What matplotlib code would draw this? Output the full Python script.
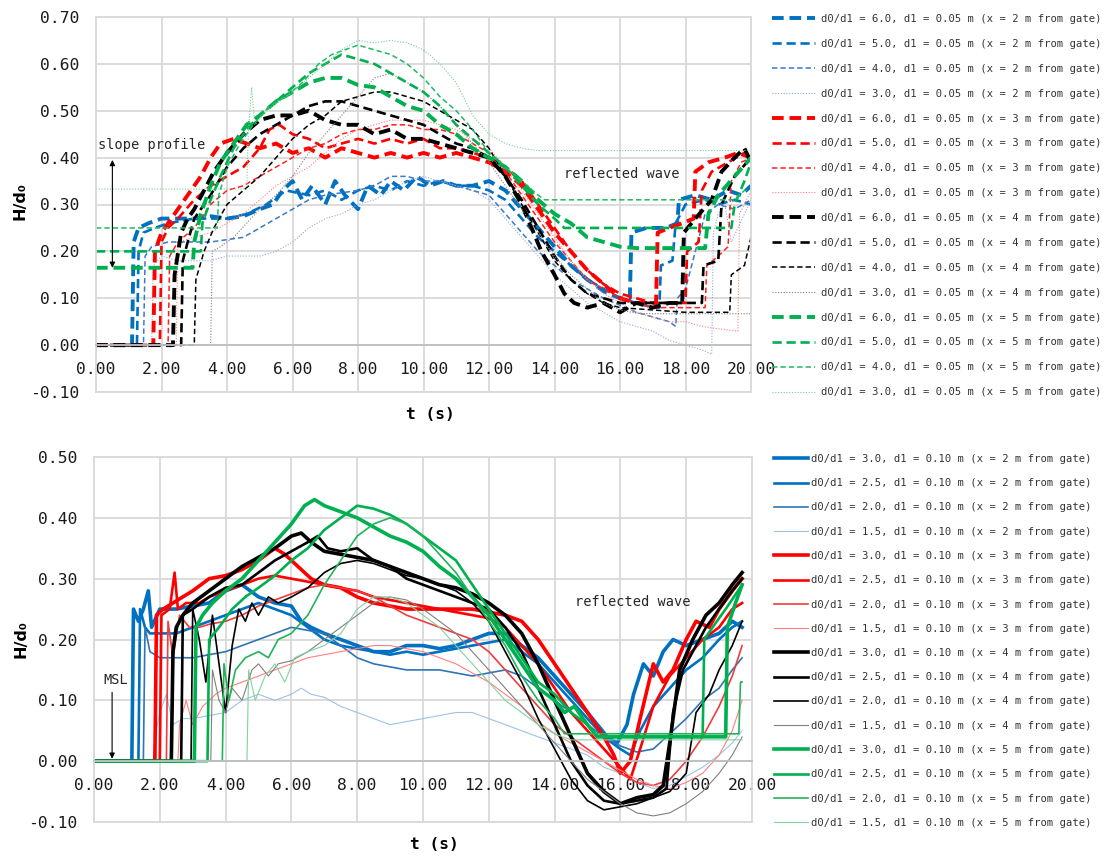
import matplotlib
matplotlib.use("Agg")
import matplotlib.pyplot as plt
from matplotlib.ticker import MultipleLocator, FormatStrFormatter

# ---------------- data: top chart (d1 = 0.05 m) ----------------
top_ratios = ["6.0", "5.0", "4.0", "3.0"]
bot_ratios = ["3.0", "2.5", "2.0", "1.5"]
gauges = ["2", "3", "4", "5"]

top_b60 = [(0,0),(1.1,0),(1.15,0.22),(1.3,0.25),(1.6,0.26),(2.0,0.27),(2.5,0.27),(3.0,0.27),(3.5,0.275),(4.0,0.27),(4.5,0.275),(5.0,0.29),(5.4,0.30),(5.7,0.33),(6.0,0.35),(6.3,0.31),(6.6,0.34),(7.0,0.30),(7.3,0.35),(7.6,0.32),(8.0,0.29),(8.3,0.34),(8.7,0.32),(9.0,0.35),(9.4,0.33),(9.8,0.36),(10.2,0.34),(10.6,0.35),(11.0,0.34),(11.5,0.34),(12.0,0.35),(12.5,0.33),(13.0,0.29),(13.5,0.25),(14.0,0.21),(14.5,0.17),(15.0,0.14),(15.5,0.115),(16.0,0.10),(16.3,0.10),(16.35,0.24),(16.8,0.25),(17.4,0.25),(17.75,0.26),(17.8,0.31),(18.3,0.32),(18.8,0.31),(19.3,0.33),(19.7,0.32),(20,0.34)]
top_b50 = [(0,0),(1.25,0),(1.3,0.20),(1.45,0.24),(1.8,0.25),(2.2,0.26),(3.0,0.27),(4.0,0.27),(4.6,0.28),(5.2,0.30),(5.8,0.33),(6.5,0.32),(7.0,0.33),(7.5,0.31),(8.0,0.33),(8.5,0.34),(9.0,0.33),(9.5,0.35),(10.0,0.34),(10.5,0.35),(11.0,0.34),(11.5,0.34),(12.0,0.33),(12.5,0.31),(13.0,0.27),(13.5,0.23),(14.0,0.20),(14.5,0.17),(15.0,0.14),(15.5,0.12),(16.0,0.10),(16.5,0.09),(17.0,0.08),(17.2,0.08),(17.25,0.17),(17.6,0.18),(17.7,0.26),(18.0,0.30),(18.6,0.31),(19.0,0.30),(19.5,0.31),(20,0.30)]
top_b40 = [(0,0),(1.45,0),(1.5,0.19),(1.7,0.21),(2.2,0.22),(3.0,0.22),(3.5,0.22),(4.0,0.225),(4.5,0.23),(5.0,0.25),(5.5,0.27),(6.0,0.29),(6.5,0.31),(7.0,0.32),(8.0,0.33),(8.5,0.34),(9.0,0.36),(9.5,0.36),(10.0,0.35),(10.5,0.35),(11.0,0.34),(11.5,0.33),(12.0,0.32),(12.5,0.28),(13.0,0.24),(13.5,0.20),(14.0,0.17),(14.5,0.14),(15.0,0.12),(15.5,0.10),(16.0,0.085),(16.5,0.07),(17.0,0.06),(17.5,0.05),(17.7,0.04),(17.75,0.10),(18.0,0.12),(18.3,0.20),(18.6,0.28),(19.0,0.30),(19.5,0.29),(20,0.31)]
top_b30 = [(0,0),(1.7,0),(1.75,0.17),(2.0,0.19),(2.5,0.18),(3.0,0.18),(3.5,0.18),(4.0,0.19),(4.5,0.19),(5.0,0.19),(5.5,0.20),(6.0,0.22),(6.5,0.25),(7.0,0.27),(7.5,0.28),(8.0,0.30),(8.5,0.31),(9.0,0.33),(9.5,0.35),(10.0,0.36),(10.5,0.35),(11.0,0.34),(11.5,0.33),(12.0,0.31),(12.5,0.27),(13.0,0.23),(13.5,0.19),(14.0,0.15),(14.5,0.12),(15.0,0.09),(15.5,0.07),(16.0,0.05),(16.5,0.04),(17.0,0.03),(17.5,0.01),(18.0,0.0),(18.5,-0.01),(18.8,-0.02),(18.85,0.24),(19.0,0.28),(19.2,0.30),(19.4,0.22),(19.6,0.25),(19.8,0.28),(20,0.31)]

top_r60 = [(0,0),(1.75,0),(1.8,0.20),(2.0,0.24),(2.3,0.27),(2.6,0.30),(2.9,0.33),(3.2,0.36),(3.5,0.40),(3.8,0.43),(4.2,0.44),(4.6,0.43),(5.0,0.42),(5.5,0.43),(6.0,0.41),(6.5,0.42),(7.0,0.40),(7.5,0.42),(8.0,0.41),(8.5,0.40),(9.0,0.41),(9.5,0.40),(10.0,0.41),(10.5,0.40),(11.0,0.41),(11.5,0.40),(12.0,0.39),(12.5,0.37),(13.0,0.34),(13.5,0.29),(14.0,0.24),(14.5,0.20),(15.0,0.16),(15.5,0.13),(16.0,0.10),(16.5,0.09),(17.1,0.09),(17.15,0.24),(17.5,0.25),(17.9,0.26),(18.25,0.27),(18.3,0.37),(18.7,0.39),(19.2,0.40),(19.6,0.41),(20,0.40)]
top_r50 = [(0,0),(1.95,0),(2.0,0.22),(2.2,0.25),(2.5,0.27),(3.0,0.31),(3.5,0.34),(4.0,0.36),(4.5,0.38),(5.0,0.42),(5.3,0.46),(5.6,0.47),(6.0,0.45),(6.5,0.44),(7.0,0.42),(7.5,0.43),(8.0,0.44),(8.5,0.43),(9.0,0.44),(9.5,0.43),(10.0,0.44),(10.5,0.42),(11.0,0.42),(11.5,0.41),(12.0,0.40),(12.5,0.38),(13.0,0.35),(13.5,0.30),(14.0,0.25),(14.5,0.20),(15.0,0.16),(15.5,0.13),(16.0,0.11),(16.5,0.10),(17.0,0.09),(18.0,0.09),(18.05,0.20),(18.4,0.22),(18.5,0.33),(18.8,0.37),(19.3,0.39),(19.8,0.41),(20,0.39)]
top_r40 = [(0,0),(2.2,0),(2.25,0.19),(2.5,0.22),(3.0,0.25),(3.5,0.30),(4.0,0.33),(4.5,0.34),(5.0,0.36),(5.5,0.38),(6.0,0.40),(6.5,0.42),(7.0,0.43),(7.5,0.45),(8.0,0.46),(8.5,0.46),(9.0,0.47),(9.5,0.47),(10.0,0.46),(10.5,0.46),(11.0,0.45),(11.5,0.43),(12.0,0.41),(12.5,0.37),(13.0,0.32),(13.5,0.27),(14.0,0.22),(14.5,0.18),(15.0,0.14),(15.5,0.12),(16.0,0.10),(16.5,0.09),(17.0,0.08),(18.6,0.08),(18.65,0.17),(19.0,0.19),(19.3,0.21),(19.4,0.35),(19.7,0.39),(20,0.40)]
top_r30 = [(0,0),(2.45,0),(2.5,0.22),(3.0,0.23),(3.5,0.24),(4.0,0.26),(4.5,0.28),(5.0,0.31),(5.5,0.34),(6.0,0.36),(6.5,0.38),(7.0,0.41),(7.5,0.44),(8.0,0.46),(8.5,0.47),(9.0,0.48),(9.5,0.48),(10.0,0.48),(10.5,0.47),(11.0,0.46),(11.5,0.44),(12.0,0.42),(12.5,0.38),(13.0,0.33),(13.5,0.28),(14.0,0.23),(14.5,0.18),(15.0,0.14),(15.5,0.11),(16.0,0.09),(16.5,0.07),(17.0,0.06),(17.5,0.05),(18.0,0.05),(18.5,0.04),(19.0,0.035),(19.6,0.03),(19.65,0.28),(20,0.33)]

top_k60 = [(0,0),(2.35,0),(2.4,0.15),(2.6,0.24),(2.8,0.27),(3.0,0.29),(3.3,0.33),(3.6,0.37),(4.0,0.41),(4.5,0.45),(5.0,0.48),(5.5,0.49),(6.0,0.49),(6.5,0.50),(7.0,0.48),(7.5,0.47),(8.0,0.47),(8.5,0.45),(9.0,0.46),(9.5,0.44),(10.0,0.44),(10.5,0.43),(11.0,0.42),(11.5,0.41),(12.0,0.40),(12.5,0.36),(13.0,0.30),(13.3,0.25),(13.6,0.20),(14.0,0.15),(14.3,0.11),(14.6,0.09),(15.0,0.08),(15.5,0.09),(16.0,0.07),(16.5,0.09),(17.0,0.08),(17.5,0.09),(17.9,0.09),(17.95,0.24),(18.3,0.27),(18.8,0.31),(19.1,0.37),(19.5,0.40),(19.8,0.42),(20,0.39)]
top_k50 = [(0,0),(2.6,0),(2.65,0.18),(2.8,0.22),(3.0,0.27),(3.5,0.32),(4.0,0.38),(4.5,0.42),(5.0,0.45),(5.5,0.47),(6.0,0.49),(6.5,0.51),(7.0,0.52),(7.5,0.52),(8.0,0.51),(8.5,0.50),(9.0,0.49),(9.5,0.48),(10.0,0.47),(10.5,0.45),(11.0,0.43),(11.5,0.42),(12.0,0.40),(12.5,0.36),(13.0,0.31),(13.5,0.25),(14.0,0.19),(14.5,0.14),(15.0,0.11),(15.5,0.10),(16.0,0.09),(18.5,0.09),(18.55,0.17),(19.0,0.18),(19.1,0.30),(19.5,0.36),(20,0.40)]
top_k40 = [(0,0),(3.0,0),(3.05,0.14),(3.3,0.20),(3.6,0.25),(4.0,0.30),(4.5,0.33),(5.0,0.36),(5.5,0.40),(6.0,0.44),(6.5,0.47),(7.0,0.49),(7.5,0.52),(8.0,0.53),(8.5,0.54),(9.0,0.54),(9.5,0.53),(10.0,0.52),(10.5,0.50),(11.0,0.48),(11.5,0.46),(12.0,0.42),(12.5,0.36),(13.0,0.30),(13.5,0.24),(14.0,0.18),(14.5,0.14),(15.0,0.11),(15.5,0.09),(16.0,0.08),(17.0,0.075),(18.0,0.07),(19.35,0.07),(19.4,0.15),(19.8,0.17),(20,0.23)]
top_k30 = [(0,0),(3.5,0),(3.55,0.20),(3.8,0.21),(4.2,0.23),(4.6,0.26),(5.0,0.29),(5.5,0.32),(6.0,0.36),(6.5,0.41),(7.0,0.45),(7.5,0.49),(8.0,0.53),(8.5,0.57),(9.0,0.58),(9.5,0.56),(10.0,0.54),(10.5,0.51),(11.0,0.47),(11.5,0.43),(12.0,0.39),(12.5,0.34),(13.0,0.29),(13.5,0.24),(14.0,0.19),(14.5,0.15),(15.0,0.12),(15.5,0.09),(16.0,0.075),(16.5,0.068),(17.0,0.067),(20,0.067)]

top_g60 = [(0,0.165),(2.95,0.165),(3.0,0.22),(3.2,0.28),(3.5,0.34),(3.8,0.39),(4.2,0.43),(4.6,0.47),(5.0,0.49),(5.5,0.52),(6.0,0.54),(6.5,0.56),(7.0,0.57),(7.5,0.57),(8.0,0.555),(8.5,0.55),(9.0,0.53),(9.5,0.51),(10.0,0.50),(10.5,0.47),(11.0,0.45),(11.5,0.42),(12.0,0.40),(12.5,0.38),(13.0,0.35),(13.5,0.31),(14.0,0.28),(14.5,0.26),(15.0,0.23),(15.5,0.22),(16.0,0.21),(16.5,0.207),(18.6,0.207),(18.7,0.28),(19.0,0.32),(19.5,0.36),(20,0.40)]
top_g50 = [(0,0.20),(3.2,0.20),(3.25,0.26),(3.5,0.31),(3.8,0.36),(4.2,0.42),(4.6,0.46),(5.0,0.49),(5.5,0.52),(6.0,0.55),(6.5,0.58),(7.0,0.60),(7.5,0.62),(8.0,0.61),(8.5,0.60),(9.0,0.58),(9.5,0.56),(10.0,0.54),(10.5,0.51),(11.0,0.47),(11.5,0.44),(12.0,0.41),(12.5,0.38),(13.0,0.34),(13.5,0.30),(14.0,0.27),(14.3,0.25),(19.4,0.25),(19.5,0.30),(19.8,0.35),(20,0.39)]
top_g40 = [(0,0.25),(3.7,0.25),(3.75,0.32),(4.0,0.38),(4.4,0.43),(4.8,0.47),(5.3,0.51),(5.8,0.53),(6.3,0.56),(6.8,0.60),(7.2,0.62),(7.6,0.63),(8.0,0.64),(8.5,0.63),(9.0,0.62),(9.5,0.60),(10.0,0.57),(10.5,0.53),(11.0,0.50),(11.5,0.46),(12.0,0.41),(12.5,0.38),(13.0,0.35),(13.5,0.32),(13.7,0.31),(19.5,0.31),(19.8,0.33),(20,0.33)]
top_g30 = [(0,0.333),(4.6,0.333),(4.65,0.45),(4.75,0.55),(4.85,0.47),(5.2,0.50),(5.6,0.52),(6.0,0.54),(6.5,0.57),(7.0,0.60),(7.5,0.63),(8.0,0.65),(8.5,0.645),(9.0,0.65),(9.5,0.645),(10.0,0.63),(10.5,0.60),(11.0,0.56),(11.5,0.49),(12.0,0.45),(12.5,0.43),(13.0,0.42),(13.5,0.415),(20,0.415)]

# ---------------- data: bottom chart (d1 = 0.10 m) ----------------
bot_b30 = [(0,0),(1.15,0),(1.2,0.25),(1.35,0.23),(1.5,0.25),(1.65,0.28),(1.75,0.22),(2.0,0.25),(2.5,0.25),(3.0,0.255),(3.5,0.26),(4.0,0.28),(4.5,0.29),(5.0,0.27),(5.5,0.26),(6.0,0.255),(6.3,0.23),(6.6,0.22),(7.0,0.21),(7.5,0.20),(8.0,0.19),(8.5,0.18),(9.0,0.18),(9.5,0.19),(10.0,0.19),(10.5,0.185),(11.0,0.19),(11.5,0.20),(12.0,0.21),(12.5,0.21),(13.0,0.19),(13.5,0.17),(14.0,0.14),(14.5,0.11),(15.0,0.08),(15.3,0.06),(15.6,0.04),(15.9,0.03),(16.2,0.06),(16.4,0.11),(16.7,0.16),(17.0,0.14),(17.3,0.18),(17.6,0.20),(18.0,0.19),(18.5,0.20),(19.0,0.21),(19.4,0.23),(19.7,0.22)]
bot_b25 = [(0,0),(1.35,0),(1.4,0.25),(1.55,0.22),(1.7,0.21),(2.0,0.21),(2.5,0.21),(3.0,0.22),(3.5,0.23),(4.0,0.24),(4.5,0.25),(5.0,0.26),(5.5,0.25),(6.0,0.24),(6.5,0.22),(7.0,0.20),(7.5,0.19),(8.0,0.185),(8.5,0.18),(9.0,0.175),(9.5,0.18),(10.0,0.175),(10.5,0.18),(11.0,0.185),(11.5,0.19),(12.0,0.195),(12.5,0.20),(13.0,0.18),(13.5,0.16),(14.0,0.13),(14.5,0.10),(15.0,0.07),(15.5,0.04),(16.0,0.02),(16.3,0.01),(16.6,0.05),(17.0,0.09),(17.5,0.12),(18.0,0.15),(18.5,0.17),(19.0,0.20),(19.4,0.22),(19.7,0.23)]
bot_b20 = [(0,0),(1.5,0),(1.55,0.22),(1.7,0.18),(2.0,0.17),(2.5,0.17),(3.0,0.17),(3.5,0.175),(4.0,0.18),(4.5,0.19),(5.0,0.20),(5.5,0.21),(6.0,0.22),(6.5,0.215),(7.0,0.21),(7.5,0.19),(8.0,0.17),(8.5,0.16),(9.0,0.155),(9.5,0.15),(10.0,0.15),(10.5,0.15),(11.0,0.145),(11.5,0.14),(12.0,0.145),(12.5,0.15),(13.0,0.14),(13.5,0.12),(14.0,0.10),(14.5,0.08),(15.0,0.06),(15.5,0.04),(16.0,0.025),(16.5,0.015),(17.0,0.02),(17.5,0.045),(18.0,0.07),(18.5,0.10),(19.0,0.12),(19.4,0.15),(19.7,0.17)]
bot_b15 = [(0,0),(1.8,0),(1.85,0.04),(2.0,0.08),(2.2,0.11),(2.4,0.06),(2.7,0.07),(3.0,0.07),(3.5,0.075),(4.0,0.08),(4.5,0.10),(5.0,0.11),(5.5,0.10),(6.0,0.11),(6.3,0.12),(6.6,0.11),(7.0,0.105),(7.5,0.09),(8.0,0.08),(8.5,0.07),(9.0,0.06),(9.5,0.065),(10.0,0.07),(10.5,0.075),(11.0,0.08),(11.5,0.08),(12.0,0.07),(12.5,0.06),(13.0,0.05),(13.5,0.04),(14.0,0.03),(14.5,0.02),(15.0,0.01),(15.5,-0.01),(16.0,-0.02),(16.5,-0.035),(17.0,-0.045),(17.5,-0.04),(18.0,-0.025),(18.5,-0.01),(19.0,0.01),(19.4,0.03),(19.7,0.05)]

bot_r30 = [(0,0),(1.85,0),(1.9,0.24),(2.1,0.25),(2.4,0.26),(2.7,0.27),(3.0,0.28),(3.5,0.30),(4.0,0.305),(4.5,0.315),(5.0,0.33),(5.5,0.35),(5.8,0.34),(6.2,0.32),(6.6,0.30),(7.0,0.29),(7.5,0.285),(8.0,0.27),(8.5,0.26),(9.0,0.255),(9.5,0.25),(10.0,0.25),(11.0,0.25),(11.5,0.25),(12.0,0.245),(12.5,0.24),(13.0,0.23),(13.5,0.20),(14.0,0.16),(14.5,0.12),(15.0,0.08),(15.5,0.04),(15.8,0.01),(16.0,-0.02),(16.3,0.0),(16.6,0.07),(17.0,0.16),(17.3,0.13),(17.6,0.15),(18.0,0.20),(18.3,0.23),(18.7,0.22),(19.0,0.25),(19.4,0.28),(19.7,0.30)]
bot_r25 = [(0,0),(2.0,0),(2.05,0.24),(2.3,0.25),(2.45,0.31),(2.55,0.25),(2.8,0.26),(3.2,0.26),(3.5,0.27),(4.0,0.28),(4.5,0.29),(5.0,0.30),(5.5,0.305),(6.0,0.30),(6.5,0.295),(7.0,0.29),(7.5,0.285),(8.0,0.28),(8.5,0.27),(9.0,0.265),(9.5,0.26),(10.0,0.255),(10.5,0.25),(11.0,0.245),(11.5,0.24),(12.0,0.235),(12.5,0.22),(13.0,0.19),(13.5,0.16),(14.0,0.12),(14.5,0.08),(15.0,0.05),(15.5,0.02),(16.0,-0.01),(16.3,-0.03),(16.6,0.02),(17.0,0.09),(17.5,0.14),(18.0,0.17),(18.5,0.20),(19.0,0.22),(19.4,0.25),(19.7,0.26)]
bot_r20 = [(0,0),(2.2,0),(2.25,0.23),(2.4,0.17),(2.6,0.24),(2.9,0.22),(3.2,0.22),(3.5,0.225),(4.0,0.23),(4.5,0.24),(5.0,0.255),(5.5,0.265),(6.0,0.275),(6.5,0.285),(7.0,0.29),(7.5,0.285),(8.0,0.28),(8.5,0.27),(9.0,0.255),(9.5,0.24),(10.0,0.23),(10.5,0.22),(11.0,0.21),(11.5,0.20),(12.0,0.18),(12.5,0.15),(13.0,0.12),(13.5,0.09),(14.0,0.06),(14.5,0.04),(15.0,0.02),(15.5,0.0),(16.0,-0.02),(16.5,-0.035),(17.0,-0.04),(17.5,-0.03),(18.0,0.0),(18.5,0.04),(19.0,0.09),(19.4,0.14),(19.7,0.19)]
bot_r15 = [(0,0),(2.55,0),(2.6,0.06),(2.8,0.10),(3.0,0.06),(3.3,0.09),(3.7,0.11),(4.0,0.12),(4.5,0.13),(5.0,0.14),(5.5,0.15),(6.0,0.16),(6.5,0.17),(7.0,0.175),(7.5,0.18),(8.0,0.185),(8.5,0.19),(9.0,0.19),(9.5,0.185),(10.0,0.18),(10.5,0.17),(11.0,0.16),(11.5,0.145),(12.0,0.13),(12.5,0.11),(13.0,0.09),(13.5,0.065),(14.0,0.045),(14.5,0.03),(15.0,0.015),(15.5,0.0),(16.0,-0.015),(16.5,-0.03),(17.0,-0.04),(17.5,-0.045),(18.0,-0.035),(18.5,-0.02),(19.0,0.01),(19.4,0.05),(19.7,0.10)]

bot_k30 = [(0,0),(2.35,0),(2.4,0.18),(2.5,0.22),(2.7,0.24),(3.0,0.26),(3.5,0.28),(4.0,0.30),(4.5,0.32),(5.0,0.335),(5.5,0.35),(6.0,0.37),(6.3,0.375),(6.6,0.36),(7.0,0.345),(7.5,0.34),(8.0,0.335),(8.5,0.33),(9.0,0.32),(9.5,0.31),(10.0,0.30),(10.5,0.29),(11.0,0.285),(11.5,0.275),(12.0,0.26),(12.5,0.24),(13.0,0.21),(13.5,0.16),(14.0,0.10),(14.5,0.04),(15.0,-0.02),(15.5,-0.05),(16.0,-0.07),(16.5,-0.06),(17.0,-0.055),(17.3,-0.04),(17.5,0.03),(17.8,0.15),(18.2,0.20),(18.6,0.24),(19.0,0.26),(19.4,0.29),(19.7,0.31)]
bot_k25 = [(0,0),(2.65,0),(2.7,0.24),(3.0,0.25),(3.5,0.27),(4.0,0.285),(4.5,0.29),(5.0,0.31),(5.5,0.33),(6.0,0.345),(6.5,0.36),(6.8,0.37),(7.1,0.35),(7.5,0.345),(8.0,0.35),(8.5,0.33),(9.0,0.32),(9.5,0.30),(10.0,0.29),(10.5,0.28),(11.0,0.27),(11.5,0.26),(12.0,0.25),(12.5,0.22),(13.0,0.18),(13.5,0.12),(14.0,0.06),(14.5,0.0),(15.0,-0.04),(15.5,-0.065),(16.0,-0.07),(16.5,-0.065),(17.0,-0.06),(17.4,-0.045),(17.6,0.08),(17.9,0.15),(18.2,0.18),(18.6,0.22),(19.0,0.25),(19.4,0.28),(19.7,0.30)]
bot_k20 = [(0,0),(2.95,0),(3.0,0.25),(3.2,0.20),(3.4,0.13),(3.6,0.24),(3.8,0.16),(4.0,0.08),(4.2,0.19),(4.4,0.25),(4.6,0.23),(4.8,0.26),(5.0,0.24),(5.3,0.27),(5.6,0.26),(6.0,0.27),(6.5,0.285),(7.0,0.31),(7.5,0.325),(8.0,0.33),(8.5,0.325),(9.0,0.315),(9.5,0.305),(10.0,0.30),(10.5,0.29),(11.0,0.28),(11.5,0.26),(12.0,0.23),(12.5,0.18),(13.0,0.13),(13.5,0.07),(14.0,0.02),(14.5,-0.03),(15.0,-0.065),(15.5,-0.08),(16.0,-0.075),(16.5,-0.07),(17.0,-0.06),(17.5,-0.05),(18.0,-0.02),(18.3,0.08),(18.7,0.11),(19.0,0.15),(19.4,0.19),(19.7,0.23)]
bot_k15 = [(0,0),(3.55,0),(3.6,0.15),(3.8,0.10),(4.0,0.08),(4.2,0.12),(4.5,0.10),(4.8,0.15),(5.0,0.16),(5.3,0.14),(5.6,0.16),(6.0,0.165),(6.5,0.18),(7.0,0.20),(7.5,0.22),(8.0,0.24),(8.5,0.26),(9.0,0.27),(9.5,0.265),(10.0,0.25),(10.5,0.23),(11.0,0.21),(11.5,0.18),(12.0,0.15),(12.5,0.12),(13.0,0.09),(13.5,0.06),(14.0,0.03),(14.5,0.0),(15.0,-0.03),(15.5,-0.05),(16.0,-0.07),(16.5,-0.085),(17.0,-0.09),(17.5,-0.085),(18.0,-0.07),(18.5,-0.05),(19.0,-0.02),(19.4,0.01),(19.7,0.04)]

bot_g30 = [(0,0),(3.05,0),(3.1,0.22),(3.3,0.24),(3.6,0.26),(4.0,0.28),(4.5,0.30),(5.0,0.33),(5.5,0.36),(6.0,0.39),(6.4,0.42),(6.7,0.43),(7.0,0.42),(7.5,0.41),(8.0,0.40),(8.5,0.385),(9.0,0.37),(9.5,0.36),(10.0,0.345),(10.5,0.32),(11.0,0.30),(11.5,0.27),(12.0,0.24),(12.5,0.20),(13.0,0.16),(13.5,0.12),(14.0,0.10),(14.3,0.08),(14.6,0.09),(15.0,0.06),(15.3,0.04),(19.2,0.04),(19.25,0.22),(19.5,0.26),(19.7,0.29)]
bot_g25 = [(0,0),(3.45,0),(3.5,0.20),(3.8,0.22),(4.2,0.25),(4.6,0.27),(5.0,0.285),(5.5,0.305),(6.0,0.33),(6.5,0.35),(7.0,0.38),(7.5,0.40),(8.0,0.42),(8.5,0.415),(9.0,0.405),(9.5,0.39),(10.0,0.37),(10.5,0.35),(11.0,0.33),(11.5,0.29),(12.0,0.25),(12.5,0.21),(13.0,0.17),(13.5,0.13),(14.0,0.11),(14.5,0.08),(15.0,0.06),(15.3,0.04),(18.5,0.04),(18.55,0.20),(18.8,0.22),(19.2,0.25),(19.7,0.29)]
bot_g20 = [(0,0),(3.9,0),(3.95,0.16),(4.1,0.10),(4.3,0.15),(4.6,0.17),(5.0,0.18),(5.3,0.17),(5.6,0.20),(6.0,0.21),(6.5,0.24),(7.0,0.29),(7.5,0.33),(8.0,0.37),(8.5,0.39),(9.0,0.40),(9.5,0.39),(10.0,0.37),(10.5,0.34),(11.0,0.31),(11.5,0.27),(12.0,0.23),(12.5,0.19),(13.0,0.14),(13.5,0.10),(14.0,0.07),(14.3,0.045),(19.6,0.045),(19.65,0.13),(19.7,0.13)]
bot_g15 = [(0,0),(4.65,0),(4.7,0.15),(4.9,0.10),(5.2,0.14),(5.5,0.16),(5.8,0.13),(6.1,0.17),(6.5,0.18),(7.0,0.19),(7.5,0.21),(8.0,0.25),(8.5,0.27),(9.0,0.27),(9.5,0.26),(10.0,0.24),(10.5,0.22),(11.0,0.19),(11.5,0.16),(12.0,0.13),(12.5,0.10),(13.0,0.08),(13.5,0.06),(14.0,0.045),(14.5,0.035),(19.7,0.035)]

top_series = [top_b60, top_b50, top_b40, top_b30,
              top_r60, top_r50, top_r40, top_r30,
              top_k60, top_k50, top_k40, top_k30,
              top_g60, top_g50, top_g40, top_g30]
bot_series = [bot_b30, bot_b25, bot_b20, bot_b15,
              bot_r30, bot_r25, bot_r20, bot_r15,
              bot_k30, bot_k25, bot_k20, bot_k15,
              bot_g30, bot_g25, bot_g20, bot_g15]

# ---------------- styles ----------------
top_colors = [["#0070C0", "#0070C0", "#3A78C8", "#8FAADC"],
              ["#FF0000", "#FF0000", "#FF2020", "#FF8080"],
              ["#000000", "#000000", "#000000", "#7F7F7F"],
              ["#00B050", "#00B050", "#20B860", "#70D090"]]
top_lw = [2.8, 1.9, 1.1, 0.8]
top_dash = [(0, (3, 1.5)), (0, (3.5, 1.8)), (0, (3.5, 2.0)), (0, (1, 1.5))]

bot_colors = [["#0070C0", "#0070C0", "#2E75B6", "#9DC3E6"],
              ["#FF0000", "#FF0000", "#F03C3C", "#FF8080"],
              ["#000000", "#000000", "#000000", "#808080"],
              ["#00B050", "#00B050", "#22B35A", "#80D3A0"]]
bot_lw = [2.6, 1.9, 1.2, 0.8]

W, H = 1103, 865
plt.rcParams["font.family"] = ["DejaVu Sans Mono"]
fig = plt.figure(figsize=(W / 100, H / 100), dpi=100)


def px_axes(l, t, r, b):
    return fig.add_axes([l / W, 1 - b / H, (r - l) / W, (b - t) / H])


def style(ax, ymin, ymax):
    grid_c = "#D9D9D9"
    ax.set_xlim(0, 20)
    ax.set_ylim(ymin, ymax)
    ax.xaxis.set_major_locator(MultipleLocator(2))
    ax.yaxis.set_major_locator(MultipleLocator(0.1))
    ax.xaxis.set_major_formatter(FormatStrFormatter("%.2f"))
    ax.yaxis.set_major_formatter(FormatStrFormatter("%.2f"))
    ax.grid(True, color=grid_c, lw=1.3)
    ax.set_axisbelow(True)
    for s in ["top", "right", "left", "bottom"]:
        ax.spines[s].set_color(grid_c)
        ax.spines[s].set_linewidth(1.3)
    ax.spines["bottom"].set_position(("data", 0))
    ax.spines["bottom"].set_color("#BFBFBF")
    ax.axhline(ymin, color=grid_c, lw=1.3, clip_on=False, zorder=0.5)
    ax.tick_params(length=0, pad=12, labelsize=11.8, labelcolor="#1A1A1A")


ax1 = px_axes(96, 17, 751, 392)
ax2 = px_axes(94, 457, 752, 822)
style(ax1, -0.1, 0.7)
style(ax2, -0.1, 0.5)

for gi, g in enumerate(gauges):
    for ri, r in enumerate(top_ratios):
        t, h = zip(*top_series[gi * 4 + ri])
        ax1.plot(t, h, color=top_colors[gi][ri], lw=top_lw[ri], ls=top_dash[ri],
                 label=f"d0/d1 = {r}, d1 = 0.05 m (x = {g} m from gate)")
for gi, g in enumerate(gauges):
    for ri, r in enumerate(bot_ratios):
        t, h = zip(*bot_series[gi * 4 + ri])
        ax2.plot(t, h, color=bot_colors[gi][ri], lw=bot_lw[ri], ls="-",
                 label=f"d0/d1 = {r}, d1 = 0.10 m (x = {g} m from gate)")

# axis labels
for ax, xy_t, xy_y in [(ax1, (0.511, -0.040), (-0.104, 0.51)),
                       (ax2, (0.518, -0.041), (-0.100, 0.50))]:
    ax.set_xlabel("t (s)", fontsize=11.6, fontweight="bold", family="DejaVu Sans Mono")
    ax.xaxis.set_label_coords(*xy_t)
    ax.set_ylabel("H/d\u2080", fontsize=11.5, fontweight="bold", family="DejaVu Sans")
    ax.yaxis.set_label_coords(*xy_y)

# annotations
ann_kw = dict(fontsize=9.8, color="#262626", va="center", ha="left")
ax1.text(0.06, 0.428, "slope profile", **ann_kw)
ax1.annotate("", xy=(0.5, 0.165), xytext=(0.5, 0.395),
             arrowprops=dict(arrowstyle="<|-|>", color="black", lw=0.8,
                             mutation_scale=8, shrinkA=0, shrinkB=0))
ax1.text(14.28, 0.364, "reflected wave", **ann_kw)

ax2.text(0.27, 0.134, "MSL", **ann_kw)
ax2.annotate("", xy=(0.55, 0.004), xytext=(0.55, 0.113),
             arrowprops=dict(arrowstyle="-|>", color="black", lw=0.8,
                             mutation_scale=8, shrinkA=0, shrinkB=0))
ax2.text(14.63, 0.262, "reflected wave", **ann_kw)

# legends
leg_kw = dict(loc="upper left", frameon=False, borderpad=0, borderaxespad=0,
              fontsize=7.6, labelcolor="#333333")
h1, l1 = ax1.get_legend_handles_labels()
fig.legend(h1, l1, bbox_transform=fig.transFigure,
           bbox_to_anchor=(772 / W, 1 - 14 / H), handlelength=4.07,
           handletextpad=0.57, labelspacing=1.41, **leg_kw)
h2, l2 = ax2.get_legend_handles_labels()
fig.legend(h2, l2, bbox_transform=fig.transFigure,
           bbox_to_anchor=(774 / W, 1 - 454 / H), handlelength=3.2,
           handletextpad=0.3, labelspacing=1.35, **leg_kw)

fig.savefig("out.png", dpi=100)
